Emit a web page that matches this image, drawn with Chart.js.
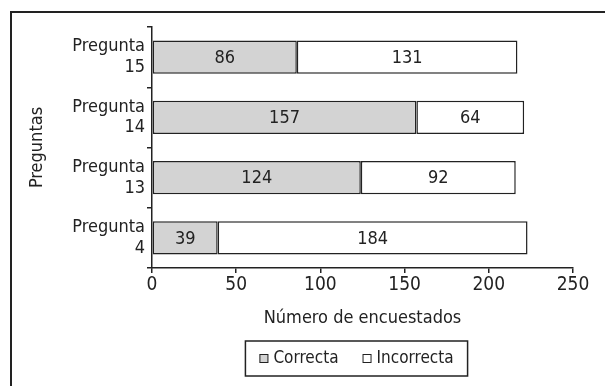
<!DOCTYPE html>
<html>
<head>
<meta charset="utf-8">
<script src="https://cdn.jsdelivr.net/npm/chart.js@4/dist/chart.umd.min.js"></script>
<style>
  html, body { margin: 0; padding: 0; background: #fff; }
  #wrap { position: relative; width: 605px; height: 386px; }
</style>
</head>
<body>
<div id="wrap"><canvas id="chart" width="605" height="386"></canvas></div>
<script>
// Survey answers per question
const categories = [['Pregunta', '15'], ['Pregunta', '14'], ['Pregunta', '13'], ['Pregunta', '4']];
const correcta = [86, 157, 124, 39];
const incorrecta = [131, 64, 92, 184];
const xTicks = [0, 50, 100, 150, 200, 250];

const FONT = '"Liberation Sans Narrow", "DejaVu Sans Condensed", "Roboto Condensed", Arial, sans-serif';
const INK = '#222222';

// Outer frame around the figure
const framePlugin = {
  id: 'frame',
  beforeDraw(chart) {
    const ctx = chart.ctx;
    ctx.save();
    ctx.strokeStyle = INK;
    ctx.lineWidth = 2;
    ctx.strokeRect(11, 12, 800, 600);
    ctx.restore();
  }
};

// Value written in the middle of every bar segment
const valueLabels = {
  id: 'valueLabels',
  afterDatasetsDraw(chart) {
    const ctx = chart.ctx;
    ctx.save();
    ctx.font = '18px ' + FONT;
    ctx.fillStyle = INK;
    ctx.textAlign = 'center';
    ctx.textBaseline = 'middle';
    chart.data.datasets.forEach((ds, i) => {
      chart.getDatasetMeta(i).data.forEach((bar, j) => {
        const p = bar.getProps(['x', 'y', 'base'], true);
        ctx.fillText(String(ds.data[j]), (p.x + p.base) / 2, p.y + 1);
      });
    });
    ctx.restore();
  }
};

// Boxed legend under the axis title
const boxedLegend = {
  id: 'boxedLegend',
  afterDraw(chart) {
    const ctx = chart.ctx;
    const area = chart.chartArea;
    const cx = (area.left + area.right) / 2 - 6;
    const top = 341, bottom = 376;
    const sq = 9, gapText = 5, gapItem = 24;
    ctx.save();
    ctx.font = '17px ' + FONT;
    const items = chart.data.datasets.map(ds => ({
      label: ds.label, fill: ds.backgroundColor, w: ctx.measureText(ds.label).width
    }));
    const total = items.reduce((s, it) => s + sq + gapText + it.w, 0) + gapItem * (items.length - 1);
    const boxW = total + 28;
    ctx.strokeStyle = INK;
    ctx.lineWidth = 1.5;
    ctx.strokeRect(cx - boxW / 2, top, boxW, bottom - top);
    let x = cx - total / 2;
    const cy = (top + bottom) / 2;
    items.forEach(it => {
      ctx.fillStyle = it.fill;
      ctx.fillRect(x, cy - sq / 2, sq, sq);
      ctx.lineWidth = 1;
      ctx.strokeRect(x + 0.5, cy - sq / 2 + 0.5, sq - 1, sq - 1);
      ctx.fillStyle = INK;
      ctx.textAlign = 'left';
      ctx.textBaseline = 'middle';
      ctx.fillText(it.label, x + sq + gapText, cy);
      x += sq + gapText + it.w + gapItem;
    });
    ctx.restore();
  }
};

new Chart(document.getElementById('chart'), {
  type: 'bar',
  data: {
    labels: categories,
    datasets: [
      {
        label: 'Correcta',
        data: correcta,
        backgroundColor: '#d3d3d3',
        borderColor: INK,
        borderWidth: 1.5,
        borderSkipped: false
      },
      {
        label: 'Incorrecta',
        data: incorrecta,
        backgroundColor: '#ffffff',
        borderColor: INK,
        borderWidth: 1.5,
        borderSkipped: false
      }
    ]
  },
  options: {
    indexAxis: 'y',
    responsive: false,
    animation: false,
    events: [],
    layout: { padding: { top: 27, right: 32, left: 0, bottom: 0 } },
    datasets: { bar: { barPercentage: 0.55, categoryPercentage: 1 } },
    plugins: {
      legend: { display: false },
      tooltip: { enabled: false }
    },
    scales: {
      x: {
        stacked: true,
        min: 0,
        max: 250,
        afterBuildTicks(scale) { scale.ticks = xTicks.map(v => ({ value: v })); },
        afterFit(scale) { scale.height = 118; },
        grid: { drawOnChartArea: false, drawTicks: true, tickLength: 5, color: INK, lineWidth: 1.5 },
        border: { display: true, color: INK, width: 1.5 },
        ticks: { color: INK, font: { family: FONT, size: 19 }, padding: 1, maxRotation: 0 },
        title: {
          display: true,
          text: 'Número de encuestados',
          color: INK,
          font: { family: FONT, size: 18 },
          padding: { top: 0, bottom: 57 }
        }
      },
      y: {
        stacked: true,
        afterFit(scale) { scale.width = 152; },
        grid: { drawOnChartArea: false, drawTicks: true, tickLength: 5, offset: true, color: INK, lineWidth: 1.5 },
        border: { display: true, color: INK, width: 1.5 },
        ticks: { color: INK, font: { family: FONT, size: 18, lineHeight: 1.15 }, padding: 2 },
        title: {
          display: true,
          text: 'Preguntas',
          color: INK,
          font: { family: FONT, size: 18 },
          padding: { top: 27, bottom: 0 }
        }
      }
    }
  },
  plugins: [framePlugin, valueLabels, boxedLegend]
});
</script>
</body>
</html>
